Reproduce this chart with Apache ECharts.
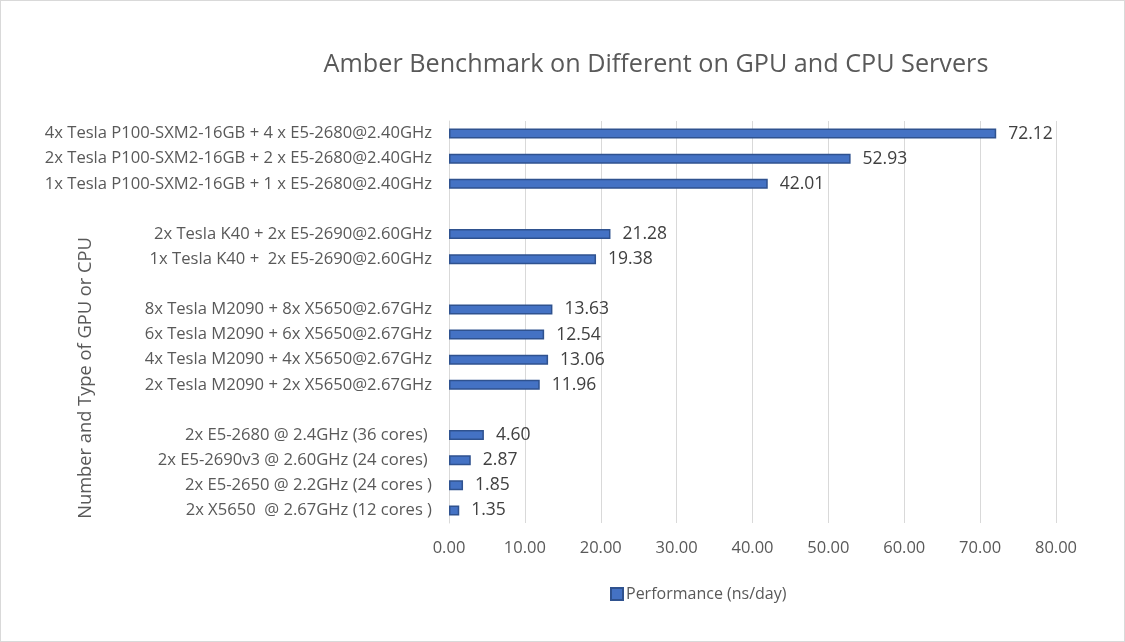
<!DOCTYPE html>
<html>
<head>
<meta charset="utf-8">
<script src="https://cdn.jsdelivr.net/npm/echarts@6/dist/echarts.min.js"></script>
<style>
html,body{margin:0;padding:0;background:#fff;}
#c{width:1125px;height:642px;box-sizing:border-box;border:1px solid #d9d9d9;}
</style>
</head>
<body>
<div id="c"></div>
<script>
// Categories listed bottom to top (ECharts category y-axis starts at the bottom)
const categories = [
  "2x X5650  @ 2.67GHz (12 cores )",
  "2x E5-2650 @ 2.2GHz (24 cores )",
  "2x E5-2690v3 @ 2.60GHz (24 cores) ",
  "2x E5-2680 @ 2.4GHz (36 cores) ",
  " ",
  "2x Tesla M2090 + 2x X5650@2.67GHz",
  "4x Tesla M2090 + 4x X5650@2.67GHz",
  "6x Tesla M2090 + 6x X5650@2.67GHz",
  "8x Tesla M2090 + 8x X5650@2.67GHz",
  "  ",
  "1x Tesla K40 +  2x E5-2690@2.60GHz",
  "2x Tesla K40 + 2x E5-2690@2.60GHz",
  "   ",
  "1x Tesla P100-SXM2-16GB + 1 x E5-2680@2.40GHz",
  "2x Tesla P100-SXM2-16GB + 2 x E5-2680@2.40GHz",
  "4x Tesla P100-SXM2-16GB + 4 x E5-2680@2.40GHz"
];
const performance = [1.35, 1.85, 2.87, 4.60, null, 11.96, 13.06, 12.54, 13.63, null, 19.38, 21.28, null, 42.01, 52.93, 72.12];
const xTicks = { min: 0, max: 80, interval: 10 };
const titleText = "Amber Benchmark on Different on GPU and CPU Servers";
const yAxisTitle = "Number and Type of GPU or CPU";
const seriesName = "Performance (ns/day)";

const FONT = "'Open Sans', sans-serif";
const chart = echarts.init(document.getElementById('c'), null, {renderer: 'canvas'});
chart.setOption({
  backgroundColor: '#ffffff',
  animation: false,
  title: {
    text: titleText,
    left: 650, top: 46, textAlign: 'center',
    textStyle: {fontFamily: FONT, fontSize: 25.2, fontWeight: 'normal', color: '#595959'}
  },
  grid: {left: 448, right: 68, top: 120, bottom: 118, containLabel: false},
  legend: {
    data: [seriesName],
    left: 604, top: 580,
    itemWidth: 12, itemHeight: 12, itemGap: 4,
    icon: 'rect',
    textStyle: {fontFamily: FONT, fontSize: 16, color: '#595959', padding: [0,0,0,-2]}
  },
  xAxis: {
    type: 'value', min: xTicks.min, max: xTicks.max, interval: xTicks.interval,
    axisLine: {show: false}, axisTick: {show: false},
    splitLine: {show: true, lineStyle: {color: '#d9d9d9', width: 1}},
    axisLabel: {
      fontFamily: FONT, fontSize: 16.5, color: '#595959', margin: 17,
      formatter: v => v.toFixed(2)
    }
  },
  yAxis: {
    type: 'category', data: categories,
    axisLine: {show: true, lineStyle: {color: '#d9d9d9'}},
    axisTick: {show: false},
    axisLabel: {fontFamily: FONT, fontSize: 16.6, color: '#595959', margin: 17, interval: 0}
  },
  graphic: [{
    type: 'text', x: 85, y: 377, rotation: Math.PI / 2,
    style: {text: yAxisTitle, fontFamily: FONT, fontSize: 18.3, fill: '#595959', align: 'center', verticalAlign: 'middle'}
  }],
  series: [{
    name: seriesName, type: 'bar', data: performance, barWidth: 10,
    itemStyle: {color: '#4472c4', borderColor: '#2f528f', borderWidth: 1.5},
    label: {
      show: true, position: 'right', distance: 12,
      fontFamily: FONT, fontSize: 17.5, color: '#404040',
      formatter: p => (p.value == null ? '' : Number(p.value).toFixed(2))
    }
  }]
});
</script>
</body>
</html>
